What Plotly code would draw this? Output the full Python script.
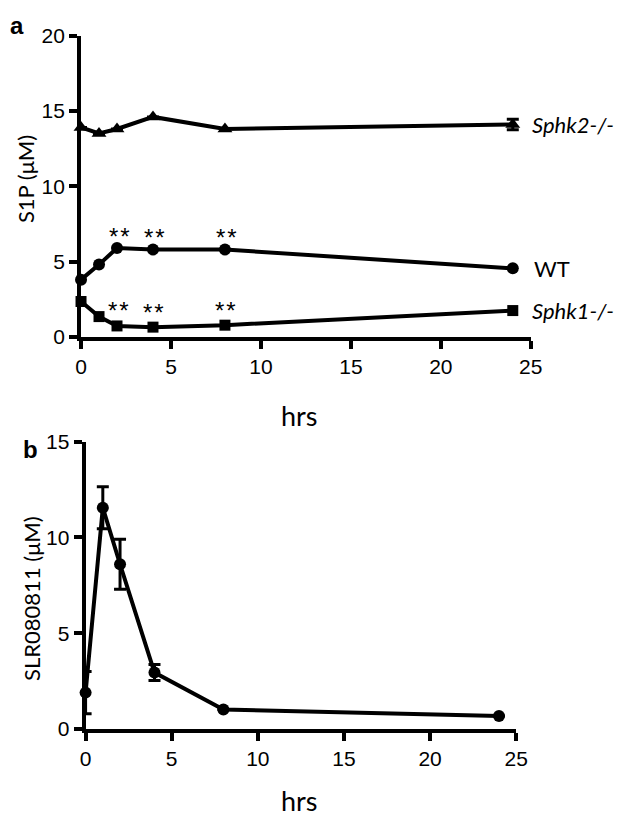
import plotly.graph_objects as go

# ---- data ----
hours = [0, 1, 2, 4, 8, 24]
wt_s1p = [3.8, 4.8, 5.9, 5.8, 5.8, 4.55]
sphk1_s1p = [2.35, 1.35, 0.73, 0.65, 0.78, 1.75]
sphk2_s1p = [13.9, 13.5, 13.8, 14.6, 13.8, 14.1]
sphk2_err = [0, 0, 0, 0, 0, 0.35]
sig_hours = [2, 4, 8]
wt_sig_vals = [5.9, 5.8, 5.8]
sphk1_sig_vals = [0.73, 0.65, 0.78]
slr_conc = [1.9, 11.55, 8.6, 2.95, 1.02, 0.68]
slr_err = [1.1, 1.1, 1.3, 0.42, 0, 0]
x_ticks = [0, 5, 10, 15, 20, 25]
ya_ticks = [0, 5, 10, 15, 20]
yb_ticks = [0, 5, 10, 15]

W, H = 629, 827
OFF = 8  # page body margin
def px(x):
    return (x - OFF) / W
def py(y):
    return 1 - (y - OFF) / H

TICKFONT = dict(family="Liberation Sans, Arial", size=21, color="black")
LABFONT = "Lato, Open Sans"

fig = go.Figure()

def line_trace(x, y, symbol, size, xa, ya, err=None):
    tr = go.Scatter(
        x=x, y=y, mode="lines+markers", xaxis=xa, yaxis=ya,
        line=dict(color="black", width=4),
        marker=dict(symbol=symbol, size=size, color="black"),
        cliponaxis=False, showlegend=False,
    )
    if err is not None:
        tr.error_y = dict(type="data", array=err, color="black", thickness=3, width=6, visible=True)
    return tr

fig.add_trace(line_trace(hours, sphk2_s1p, "triangle-up", 13, "x", "y", sphk2_err))
fig.add_trace(line_trace(hours, wt_s1p, "circle", 12, "x", "y"))
fig.add_trace(line_trace(hours, sphk1_s1p, "square", 11, "x", "y"))
fig.add_trace(line_trace(hours, slr_conc, "circle", 12, "x2", "y2", slr_err))

axis_common = dict(
    showline=True, linewidth=4, linecolor="black", ticks="outside", ticklen=8,
    tickwidth=4, tickcolor="black", showgrid=False, zeroline=False,
    tickfont=TICKFONT, fixedrange=True,
)

fig.update_layout(
    width=W, height=H, margin=dict(l=0, r=0, t=0, b=0),
    paper_bgcolor="white", plot_bgcolor="white",
    xaxis=dict(domain=[px(77), px(540)], anchor="y", range=[0, 25], tickvals=x_ticks, **axis_common),
    yaxis=dict(domain=[py(334), py(24)], anchor="x", range=[0, 20], tickvals=ya_ticks, **axis_common),
    xaxis2=dict(domain=[px(81.7), px(525)], anchor="y2", range=[0, 25], tickvals=x_ticks, **axis_common),
    yaxis2=dict(domain=[py(737.3), py(441.7)], anchor="x2", range=[0, 15], tickvals=yb_ticks, **axis_common),
)

ann = []
star_font = dict(family="Liberation Sans, Arial", size=24, color="black")
for hx, v in zip(sig_hours, wt_sig_vals):
    ann.append(dict(x=hx, y=v, xref="x", yref="y", text="*\u200a*", showarrow=False,
                    font=star_font, yanchor="middle", yshift=12, xshift=2))
for hx, v in zip(sig_hours, sphk1_sig_vals):
    ann.append(dict(x=hx, y=v, xref="x", yref="y", text="*\u200a*", showarrow=False,
                    font=star_font, yanchor="middle", yshift=15, xshift=1))
lab_font = dict(family=LABFONT, size=22, color="black")
ann.append(dict(x=24, y=sphk2_s1p[-1], xref="x", yref="y", text="<i>Sphk2-/-</i>", showarrow=False,
                xanchor="left", yanchor="middle", xshift=17, font=lab_font))
ann.append(dict(x=24, y=wt_s1p[-1], xref="x", yref="y", text="WT", showarrow=False,
                xanchor="left", yanchor="middle", xshift=19, font=lab_font))
ann.append(dict(x=24, y=sphk1_s1p[-1], xref="x", yref="y", text="<i>Sphk1-/-</i>", showarrow=False,
                xanchor="left", yanchor="middle", xshift=17, font=lab_font))
title_font = dict(family=LABFONT, size=27, color="black")
ann.append(dict(x=px(302), y=py(415), xref="paper", yref="paper", text="hrs", showarrow=False,
                xanchor="center", yanchor="middle", font=title_font))
ann.append(dict(x=px(302), y=py(811), xref="paper", yref="paper", text="hrs", showarrow=False,
                xanchor="center", yanchor="middle", font=title_font))
ytitle_font = dict(family=LABFONT, size=22, color="black")
ann.append(dict(x=px(20), y=py(172), xref="paper", yref="paper", text="S1P (μM)", showarrow=False,
                textangle=-90, xanchor="center", yanchor="middle", font=ytitle_font))
ann.append(dict(x=px(26), y=py(603), xref="paper", yref="paper", text="SLR080811 (μM)", showarrow=False,
                textangle=-90, xanchor="center", yanchor="middle", font=ytitle_font))
letter_font = dict(family="Liberation Sans, Arial", size=24, color="black")
ann.append(dict(x=px(11), y=py(14), xref="paper", yref="paper", text="<b>a</b>", showarrow=False,
                xanchor="center", yanchor="middle", font=letter_font))
ann.append(dict(x=px(25), y=py(450), xref="paper", yref="paper", text="<b>b</b>", showarrow=False,
                xanchor="center", yanchor="middle", font=letter_font))

fig.update_layout(annotations=ann)
fig.write_html("out.html")
